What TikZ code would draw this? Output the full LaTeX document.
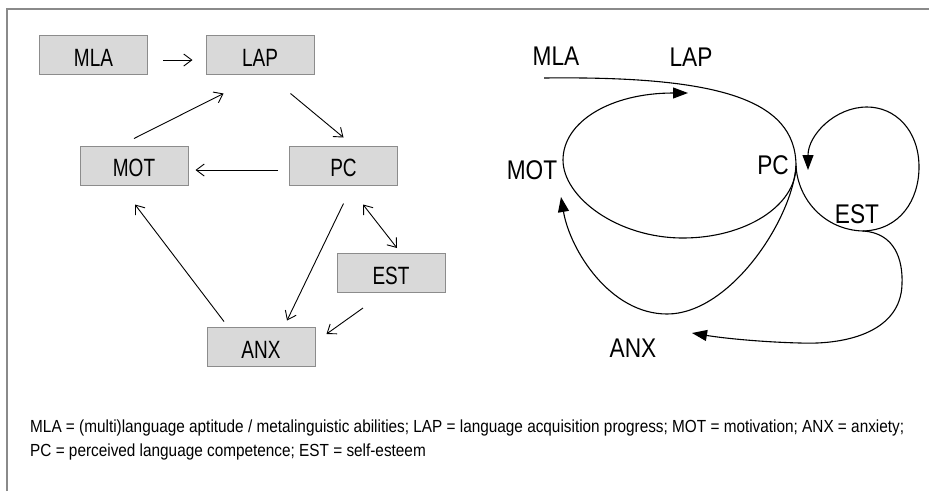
\documentclass[tikz,border=0pt]{standalone}
\usepackage{graphicx}
\usepackage{fontspec}
\setmainfont{Liberation Sans}
\newfontfamily\boxfont{Liberation Sans}[FakeStretch=0.76]
\newfontfamily\labfont{Liberation Sans}[FakeStretch=0.84]
\usetikzlibrary{arrows.meta,calc}
\definecolor{boxfill}{HTML}{D9D9D9}
\definecolor{boxline}{HTML}{8C8C8C}
\definecolor{framegray}{HTML}{8A8A8A}
\newsavebox\capone
\newsavebox\captwo
\begin{document}
\sbox\capone{\fontsize{17.5}{20}\selectfont MLA = (multi)language aptitude / metalinguistic abilities; LAP = language acquisition progress; MOT = motivation; ANX = anxiety;}%
\sbox\captwo{\fontsize{17.5}{20}\selectfont PC = perceived language competence; EST = self-esteem}%
\pgfmathsetmacro\capf{874/\wd\capone}%
\begin{tikzpicture}[x=1pt,y=-1pt,
  box/.style={draw=boxline,fill=boxfill,line width=1pt,minimum width=108pt,minimum height=39pt,inner sep=0pt,text height=23pt,font=\boxfont\fontsize{25}{25}\selectfont},
  arr/.style={line width=0.9pt,-{Straight Barb[length=8pt,width=12pt]}},
  darr/.style={line width=0.9pt,{Straight Barb[length=8pt,width=12pt]}-{Straight Barb[length=8pt,width=12pt]}},
  lab/.style={inner sep=0pt,font=\labfont\fontsize{27}{27}\selectfont},
  carr/.style={line width=1.1pt,-{Triangle[length=15pt,width=11pt]}},
  capt/.style={anchor=base west,inner sep=0pt}
]
\useasboundingbox (0,0) rectangle (929,491);
\draw[framegray,line width=1.3pt] (7,491) -- (7,9) -- (929,9);

% left diagram
\node[box] (mla) at (93.5,54.5) {MLA};
\node[box] (lap) at (260,54.5) {LAP};
\node[box] (mot) at (134,165.5) {MOT};
\node[box] (pc) at (343.5,165.5) {PC};
\node[box] (est) at (391,273) {EST};
\node[box] (anx) at (261,346.5) {ANX};

\draw[arr] ([shift={(15,5.5)}]mla.east) -- ([shift={(-13,5.5)}]lap.west);
\draw[arr] ([shift={(0,-7)}]mot.north) -- ([shift={(18,19)}]lap.south west);
\draw[arr] ([shift={(-24,19)}]lap.south east) -- ([shift={(0,-8)}]pc.north);
\draw[arr] ([shift={(-11,4.5)}]pc.west) -- ([shift={(7,4.5)}]mot.east);
\draw[arr] ([shift={(0,18)}]pc.south) -- ([shift={(26,-6)}]anx.north);
\draw[darr] ([shift={(19.5,19)}]pc.south) -- ([shift={(6,-5)}]est.north);
\draw[arr] ([shift={(-28,15)}]est.south) -- ([shift={(11,-12.5)}]anx.east);
\draw[arr] ([shift={(-37,-5)}]anx.north) -- ([shift={(1,19)}]mot.south);

% right diagram
\node[lab] (rmla) at (556,56) {MLA};
\node[lab] (rlap) at (691,57) {LAP};
\node[lab] (rmot) at (532,170) {MOT};
\node[lab] (rpc) at (773,165) {PC};
\node[lab] (rest) at (857,214) {EST};
\node[lab] (ranx) at (633,348) {ANX};

\coordinate (mlastart) at (544,78);
\coordinate (pcpt) at (796,166);
\coordinate (elbot) at (683,238);
\coordinate (elleft) at (563,160);
\coordinate (lapend) at (688,93);
\coordinate (bbot) at (667,314);
\coordinate (motend) at (561,197);
\coordinate (estbot) at (863,231);
\coordinate (loopright) at (919,167);
\coordinate (looptop) at (867,107);
\coordinate (pcin) at (808,170);
\coordinate (dright) at (902,284);
\coordinate (dbot) at (800,343);
\coordinate (anxend) at (692,333);

\draw[carr] (mlastart) .. controls (715,76) and (796,98) .. (pcpt)
  .. controls (796,206) and (745,238) .. (elbot)
  .. controls (617,238) and (563,197) .. (elleft)
  .. controls (563,122) and (610,93) .. (lapend);
\draw[carr] (pcpt) .. controls (792,220) and (730,314) .. (bbot)
  .. controls (610,314) and (570,250) .. (motend);
\draw[carr] (pcpt) .. controls (798,200) and (825,230) .. (estbot)
  .. controls (900,230) and (919,200) .. (loopright)
  .. controls (919,130) and (895,107) .. (looptop)
  .. controls (835,107) and (808,135) .. (pcin);
\draw[carr] (estbot) .. controls (895,233) and (903,260) .. (dright)
  .. controls (901,330) and (850,345) .. (dbot)
  .. controls (760,342) and (722,338) .. (anxend);

% caption
\node[capt] (cap1) at (30,432.5) {\scalebox{\capf}[1]{\usebox\capone}};
\node[capt] (cap2) at (30,456) {\scalebox{\capf}[1]{\usebox\captwo}};
\end{tikzpicture}
\end{document}
